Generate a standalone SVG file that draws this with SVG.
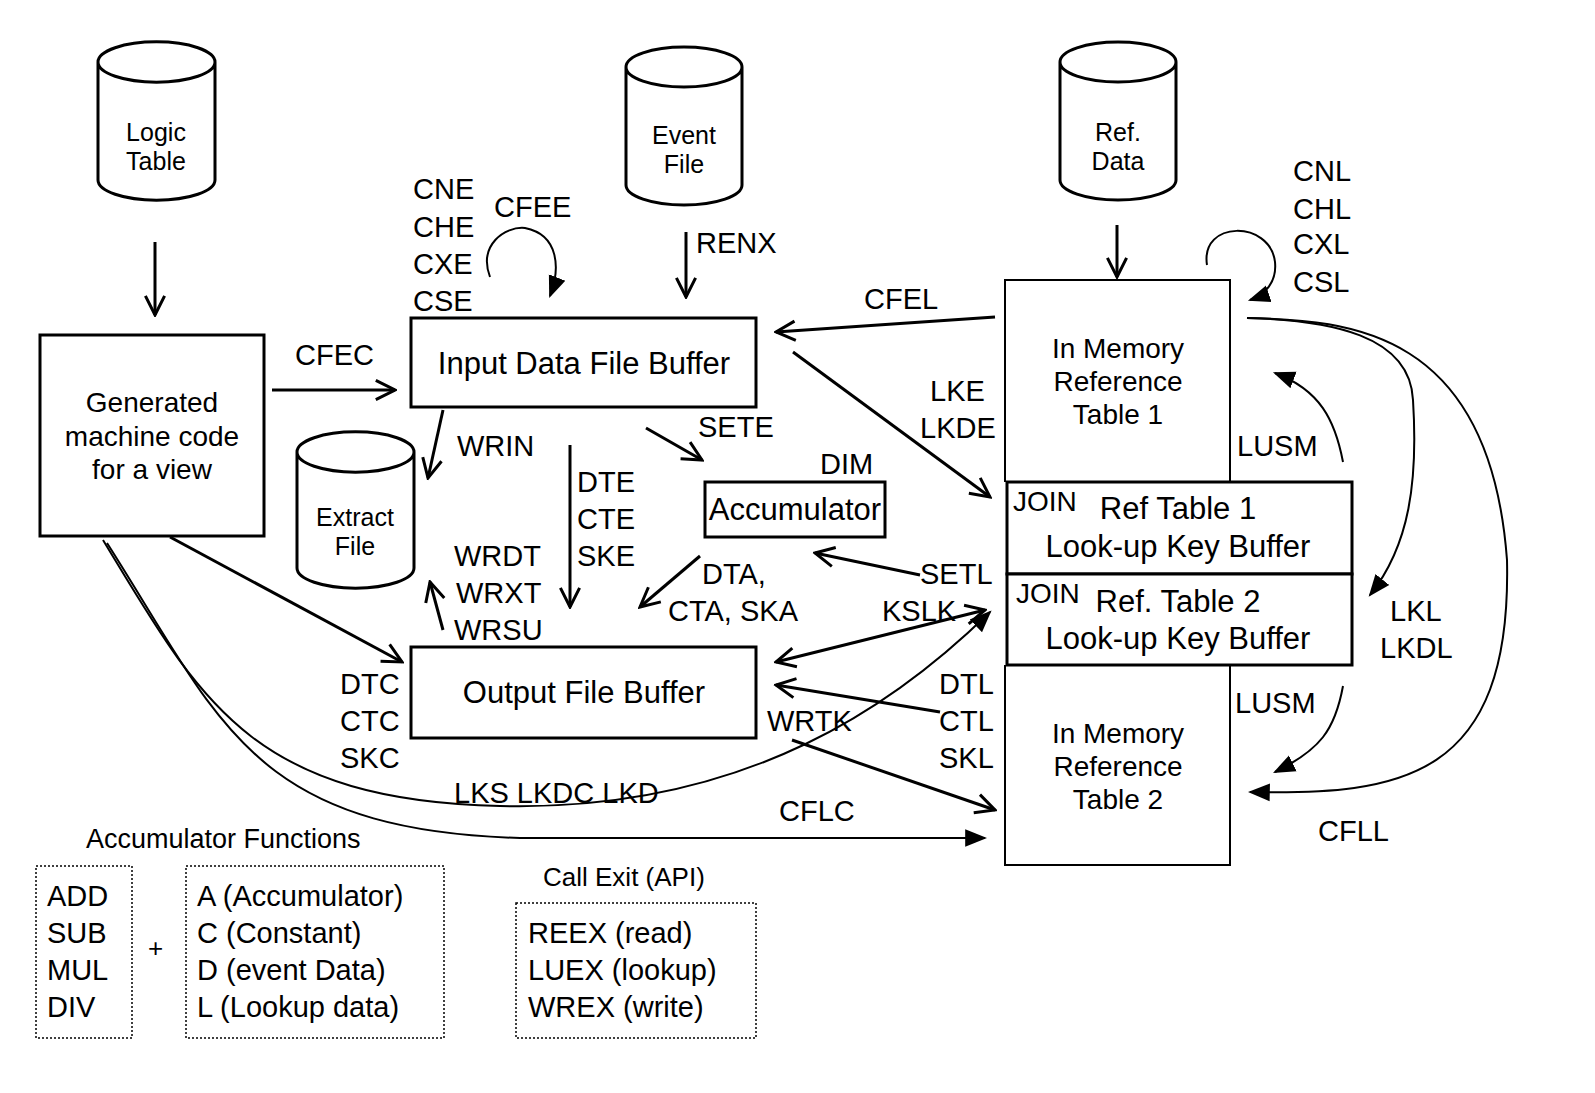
<svg xmlns="http://www.w3.org/2000/svg" width="1595" height="1093" viewBox="0 0 1595 1093">
<style>
text{font-family:"Liberation Sans",Arial,sans-serif;fill:#000}
.l{font-size:29px}
.c{font-size:25px;text-anchor:middle}
.n{font-size:28px;text-anchor:middle}
.k{font-size:31px;text-anchor:middle}
.b{fill:#fff;stroke:#000;stroke-width:3}
.d{fill:none;stroke:#000;stroke-width:1.5;stroke-dasharray:2,2}
.a{fill:none;stroke:#000;stroke-width:3;marker-end:url(#v)}
.f{fill:none;stroke:#000;stroke-width:2;marker-end:url(#t)}
</style>
<defs>
<marker id="v" viewBox="0 0 20 20" refX="18" refY="10" markerWidth="24" markerHeight="24" orient="auto" markerUnits="userSpaceOnUse">
<path d="M2,2 L18,10 L2,18" fill="none" stroke="#000" stroke-width="2.5"/>
</marker>
<marker id="v2" viewBox="0 0 20 20" refX="18" refY="10" markerWidth="24" markerHeight="24" orient="auto-start-reverse" markerUnits="userSpaceOnUse">
<path d="M2,2 L18,10 L2,18" fill="none" stroke="#000" stroke-width="2.5"/>
</marker>
<marker id="t" viewBox="0 0 20 20" refX="18" refY="10" markerWidth="22" markerHeight="22" orient="auto" markerUnits="userSpaceOnUse">
<path d="M0,2 L20,10 L0,18 Z" fill="#000"/>
</marker>
</defs>
<rect width="1595" height="1093" fill="#fff"/>

<g id="logic"><path class="b" d="M98,62 V180 A58,20 0 0 0 215,180 V62 A58,20 0 0 0 98,62 A58,20 0 0 0 215,62"/><text class="c" x="156" y="141">Logic</text><text class="c" x="156" y="170">Table</text></g>
<g id="event"><path class="b" d="M626,67 V185 A58,20 0 0 0 742,185 V67 A58,20 0 0 0 626,67 A58,20 0 0 0 742,67"/><text class="c" x="684" y="144">Event</text><text class="c" x="684" y="173">File</text></g>
<g id="refdata"><path class="b" d="M1060,62 V180 A58,20 0 0 0 1176,180 V62 A58,20 0 0 0 1060,62 A58,20 0 0 0 1176,62"/><text class="c" x="1118" y="141">Ref.</text><text class="c" x="1118" y="170">Data</text></g>
<g id="extract"><path class="b" d="M297,452 V568 A58,20 0 0 0 414,568 V452 A58,20 0 0 0 297,452 A58,20 0 0 0 414,452"/><text class="c" x="355" y="526">Extract</text><text class="c" x="355" y="555">File</text></g>

<g id="gen"><rect class="b" x="40" y="335" width="224" height="201" stroke-width="2"/><text class="n" x="152" y="412">Generated</text><text class="n" x="152" y="446">machine code</text><text class="n" x="152" y="479">for a view</text></g>
<g id="input"><rect class="b" x="411" y="318" width="345" height="89"/><text class="k" x="584" y="374">Input Data File Buffer</text></g>
<g id="acc"><rect class="b" x="705" y="482" width="180" height="55"/><text class="k" x="795" y="520" font-size="29">Accumulator</text></g>
<g id="output"><rect class="b" x="411" y="647" width="345" height="91"/><text class="k" x="584" y="703" font-size="29">Output File Buffer</text></g>
<g id="ref1"><path fill="none" stroke="#000" stroke-width="2" d="M1005,482 V280 H1230 V482"/><text class="n" x="1118" y="358">In Memory</text><text class="n" x="1118" y="391">Reference</text><text class="n" x="1118" y="424">Table 1</text></g>
<g id="join1"><rect class="b" x="1007" y="482" width="345" height="92"/><text x="1013" y="511" font-size="28">JOIN</text><text class="k" x="1178" y="519">Ref Table 1</text><text class="k" x="1178" y="557">Look-up Key Buffer</text></g>
<g id="join2"><rect class="b" x="1007" y="574" width="345" height="91"/><text x="1016" y="603" font-size="28">JOIN</text><text class="k" x="1178" y="612">Ref. Table 2</text><text class="k" x="1178" y="649">Look-up Key Buffer</text></g>
<g id="ref2"><path fill="none" stroke="#000" stroke-width="2" d="M1005,665 V865 H1230 V665"/><text class="n" x="1118" y="743">In Memory</text><text class="n" x="1118" y="776">Reference</text><text class="n" x="1118" y="809">Table 2</text></g>

<g id="accf"><text x="86" y="848" font-size="27">Accumulator Functions</text>
<rect class="d" x="36" y="866" width="96" height="172"/><text class="l" x="47" y="906">ADD</text><text class="l" x="47" y="943">SUB</text><text class="l" x="47" y="980">MUL</text><text class="l" x="47" y="1017">DIV</text>
<text x="148" y="957" font-size="26">+</text>
<rect class="d" x="186" y="866" width="258" height="172"/><text class="l" x="197" y="906">A (Accumulator)</text><text class="l" x="197" y="943">C (Constant)</text><text class="l" x="197" y="980">D (event Data)</text><text class="l" x="197" y="1017">L (Lookup data)</text></g>
<g id="callexit"><text x="543" y="886" font-size="26">Call Exit (API)</text>
<rect class="d" x="516" y="903" width="240" height="135"/><text class="l" x="528" y="943">REEX (read)</text><text class="l" x="528" y="980">LUEX (lookup)</text><text class="l" x="528" y="1017">WREX (write)</text></g>

<g id="connectors">
<path class="a" d="M155,242 V315"/>
<path class="a" d="M272,390 H395"/>
<path class="f" d="M490,277 C478,245 505,226 525,228 C560,235 560,270 550,296"/>
<path class="a" d="M686,232 V297"/>
<path class="a" d="M1117,225 V277"/>
<path class="a" d="M995,317 L776,332"/>
<path class="a" d="M793,352 L990,497"/>
<path class="a" d="M443,410 L428,478"/>
<path class="a" d="M646,428 L702,460"/>
<path class="a" d="M570,445 V607"/>
<path class="a" d="M920,575 L815,553"/>
<path class="a" d="M700,556 L640,607"/>
<path class="a" d="M443,630 L430,582"/>
<path d="M985,610 L776,662" fill="none" stroke="#000" stroke-width="3" marker-start="url(#v2)" marker-end="url(#v2)"/>
<path class="a" d="M170,537 L402,662"/>
<path class="a" d="M940,712 L776,685"/>
<path class="a" d="M792,740 L995,810"/>
<path fill="none" stroke="#000" stroke-width="2" marker-end="url(#t)" d="M103,540 C200,700 250,800 500,806 C750,812 900,700 990,612"/>
<path fill="none" stroke="#000" stroke-width="2" marker-end="url(#t)" d="M107,543 C220,720 250,830 520,838 L985,838"/>
<path class="f" d="M1207,265 C1200,220 1270,220 1275,262 C1277,282 1265,295 1250,300"/>
<path class="f" d="M1343,462 C1335,420 1320,390 1275,373"/>
<path class="f" d="M1247,318 C1330,320 1410,335 1413,400 C1418,480 1410,545 1370,595"/>
<path class="f" d="M1247,318 C1350,320 1490,330 1507,560 C1512,780 1400,795 1250,792"/>
<path class="f" d="M1343,686 C1335,730 1320,750 1275,772"/>
</g>

<g id="labels" class="l">
<text x="413" y="199">CNE</text><text x="413" y="237">CHE</text><text x="413" y="274">CXE</text><text x="413" y="311">CSE</text>
<text x="494" y="217">CFEE</text><text x="696" y="253">RENX</text>
<text x="295" y="365">CFEC</text><text x="864" y="309">CFEL</text>
<text x="930" y="401">LKE</text><text x="920" y="438">LKDE</text>
<text x="457" y="456">WRIN</text><text x="698" y="437">SETE</text><text x="820" y="474">DIM</text>
<text x="577" y="492">DTE</text><text x="577" y="529">CTE</text><text x="577" y="566">SKE</text>
<text x="454" y="566">WRDT</text><text x="456" y="603">WRXT</text><text x="454" y="640">WRSU</text>
<text x="702" y="584">DTA,</text><text x="668" y="621">CTA, SKA</text>
<text x="920" y="584">SETL</text><text x="882" y="621">KSLK</text>
<text x="340" y="694">DTC</text><text x="340" y="731">CTC</text><text x="340" y="768">SKC</text>
<text x="939" y="694">DTL</text><text x="939" y="731">CTL</text><text x="939" y="768">SKL</text>
<text x="767" y="731">WRTK</text>
<text x="454" y="803">LKS LKDC LKD</text><text x="779" y="821">CFLC</text>
<text x="1293" y="181">CNL</text><text x="1293" y="219">CHL</text><text x="1293" y="254">CXL</text><text x="1293" y="292">CSL</text>
<text x="1237" y="456">LUSM</text><text x="1235" y="713">LUSM</text>
<text x="1390" y="621">LKL</text><text x="1380" y="658">LKDL</text>
<text x="1318" y="841">CFLL</text>
</g>
</svg>
